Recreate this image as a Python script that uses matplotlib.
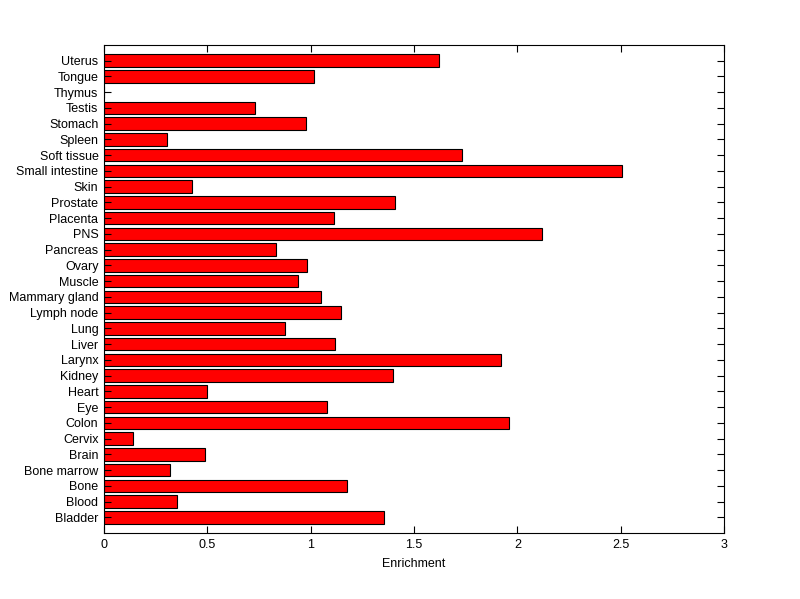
import matplotlib
matplotlib.use('Agg')
import matplotlib.pyplot as plt
import numpy as np

plt.rcParams['font.family'] = ['Liberation Sans', 'DejaVu Sans']

tissues = ['Bladder', 'Blood', 'Bone', 'Bone marrow', 'Brain', 'Cervix', 'Colon',
           'Eye', 'Heart', 'Kidney', 'Larynx', 'Liver', 'Lung', 'Lymph node',
           'Mammary gland', 'Muscle', 'Ovary', 'Pancreas', 'PNS', 'Placenta',
           'Prostate', 'Skin', 'Small intestine', 'Soft tissue', 'Spleen',
           'Stomach', 'Testis', 'Thymus', 'Tongue', 'Uterus']
enrichment = [1.357, 0.355, 1.178, 0.321, 0.491, 0.142, 1.961,
              1.081, 0.500, 1.400, 1.923, 1.120, 0.878, 1.149,
              1.052, 0.941, 0.984, 0.834, 2.121, 1.115,
              1.410, 0.428, 2.508, 1.734, 0.305,
              0.979, 0.732, 0.0, 1.018, 1.623]

fig = plt.figure(figsize=(8, 5.99), dpi=100)
ax = fig.add_axes([0.13, 0.11, 0.775, 0.815])

ypos = np.arange(1, len(tissues) + 1)
ax.barh(ypos, enrichment, height=0.8, color='#ff0000', edgecolor='black', linewidth=0.8)

ax.set_xlim(0, 3)
ax.set_ylim(0, len(tissues) + 1)
ax.set_xticks([0, 0.5, 1, 1.5, 2, 2.5, 3])
ax.set_xticklabels(['0', '0.5', '1', '1.5', '2', '2.5', '3'])
ax.set_yticks(ypos)
ax.set_yticklabels(tissues)
ax.tick_params(direction='in', length=5, width=0.8, labelsize=9,
               top=True, right=True, pad=4)
for s in ax.spines.values():
    s.set_linewidth(0.8)
ax.set_xlabel('Enrichment', fontsize=9, labelpad=5)

fig.savefig('out.png', dpi=100)
